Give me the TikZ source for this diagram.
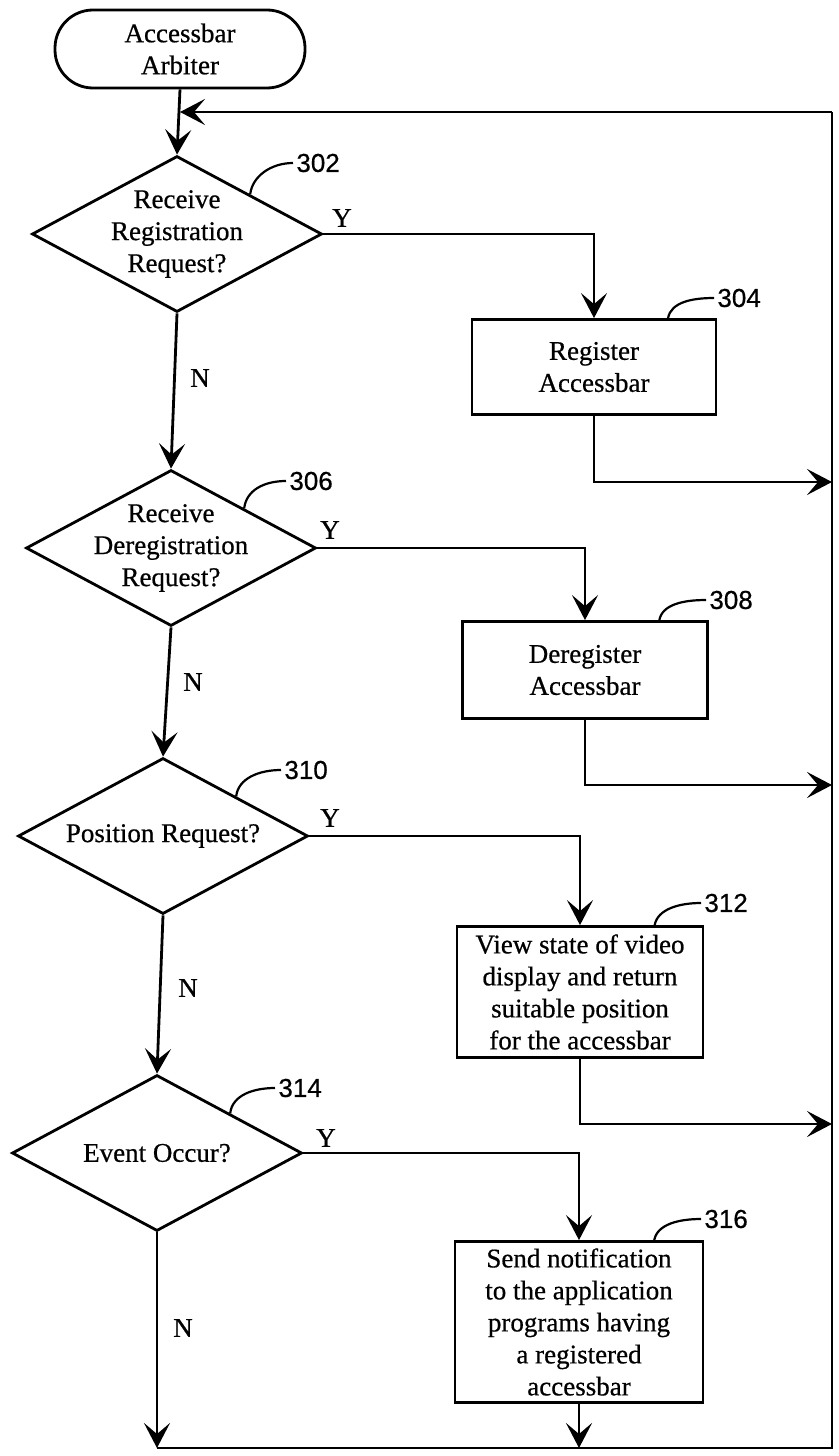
\documentclass[tikz,border=0pt]{standalone}
\usepackage{fontspec}
\setmainfont{Liberation Serif}[FakeBold=0.6]
\newfontfamily\numberfont{Liberation Sans}[FakeBold=0.6]
\usetikzlibrary{shapes.geometric,arrows.meta,calc}

\begin{document}
\begin{tikzpicture}[x=0.5pt,y=-0.5pt,
	every node/.style={font=\fontsize{13.5}{16}\selectfont},
	line/.style={line width=1.4pt},
	arr/.style={line width=1.4pt,-{Stealth[length=12.5pt,width=13pt,inset=5.5pt]}},
	decision/.style={draw,shape=diamond,line width=1.4pt,minimum width=145pt,minimum height=78pt,inner sep=0pt},
	process/.style={draw,rectangle,line width=1.4pt,align=center,inner sep=0pt},
	leader/.style={line width=1.1pt},
	numlabel/.style={anchor=west,inner sep=1.5pt}]
	\newcommand{\myfontnumbers}[1]{\numberfont\fontsize{13}{15}\selectfont{#1}}
	\useasboundingbox (0,0) rectangle (839,1456);
	%Start of the flow
	\coordinate (start) at (180,49);
	\node [draw,line width=1.4pt,rounded corners=19pt,minimum width=125pt,minimum height=39pt,align=center,inner sep=0pt] (term) at (start) {Accessbar\\Arbiter};
	%Centers of the decisions
	\coordinate (dec302) at (177,234);
	\coordinate (dec306) at (171,548);
	\coordinate (dec310) at (163,836);
	\coordinate (dec314) at (157,1153);
	\node [decision] (d302) at (dec302) {};
	\node [decision] (d306) at (dec306) {};
	\node [decision] (d310) at (dec310) {};
	\node [decision] (d314) at (dec314) {};
	\node [align=center,inner sep=0pt] (t302) at (dec302) {Receive\\Registration\\Request?};
	\node [align=center,inner sep=0pt] (t306) at (dec306) {Receive\\Deregistration\\Request?};
	\node [inner sep=0pt] (t310) at (dec310) {Position Request?};
	\node [inner sep=0pt] (t314) at (dec314) {Event Occur?};
	%Centers of the boxes
	\coordinate (box304) at (594,367);
	\coordinate (box308) at (585,670);
	\coordinate (box312) at (580,992);
	\coordinate (box316) at (579,1322);
	\node [process,minimum width=122pt,minimum height=47.5pt] (b304) at (box304) {Register\\Accessbar};
	\node [process,minimum width=122.5pt,minimum height=48.5pt] (b308) at (box308) {Deregister\\Accessbar};
	\node [process,minimum width=123pt,minimum height=65.5pt] (b312) at (box312) {View state of video\\display and return\\suitable position\\for the accessbar};
	\node [process,minimum width=124pt,minimum height=80.5pt] (b316) at (box316) {Send notification\\to the application\\programs having\\a registered\\accessbar};
	%Reference numbers
	\node [numlabel] (l302) at (293,163) {\myfontnumbers{302}};
	\node [numlabel] (l306) at (286,481) {\myfontnumbers{306}};
	\node [numlabel] (l310) at (281,770) {\myfontnumbers{310}};
	\node [numlabel] (l314) at (275,1088) {\myfontnumbers{314}};
	\node [numlabel] (l304) at (714,298) {\myfontnumbers{304}};
	\node [numlabel] (l308) at (706,600) {\myfontnumbers{308}};
	\node [numlabel] (l312) at (701,903) {\myfontnumbers{312}};
	\node [numlabel] (l316) at (701,1219) {\myfontnumbers{316}};
	\draw [leader] (d302.north east) .. controls +(2,-18) and +(-22,0) .. (l302.west);
	\draw [leader] (d306.north east) .. controls +(2,-18) and +(-22,0) .. (l306.west);
	\draw [leader] (d310.north east) .. controls +(2,-18) and +(-22,0) .. (l310.west);
	\draw [leader] (d314.north east) .. controls +(2,-18) and +(-22,0) .. (l314.west);
	\draw [leader] ($(b304.north)!0.6!(b304.north east)$) .. controls +(3,-16) and +(-22,0) .. (l304.west);
	\draw [leader] ($(b308.north)!0.6!(b308.north east)$) .. controls +(3,-16) and +(-22,0) .. (l308.west);
	\draw [leader] ($(b312.north)!0.6!(b312.north east)$) .. controls +(3,-16) and +(-22,0) .. (l312.west);
	\draw [leader] ($(b316.north)!0.6!(b316.north east)$) .. controls +(3,-16) and +(-22,0) .. (l316.west);
	%Y and N
	\node [inner sep=0pt] (y302) at (342,218) {Y};
	\node [inner sep=0pt] (y306) at (330,530) {Y};
	\node [inner sep=0pt] (y310) at (330,818) {Y};
	\node [inner sep=0pt] (y314) at (326,1138) {Y};
	\node [inner sep=0pt] (n302) at (200,378) {N};
	\node [inner sep=0pt] (n306) at (193,682) {N};
	\node [inner sep=0pt] (n310) at (188,988) {N};
	\node [inner sep=0pt] (n314) at (183,1328) {N};
	%The loop back on the right
	\coordinate (busTop) at (832,112);
	\coordinate (busBot) at (832,1448);
	\coordinate (merge) at (180,112);
	\coordinate (in304) at (832,482);
	\coordinate (in308) at (832,785);
	\coordinate (in312) at (832,1124);
	%Main column
	\draw [arr] (term.south) -- (d302.north);
	\draw [arr] (d302.south) -- (d306.north);
	\draw [arr] (d306.south) -- (d310.north);
	\draw [arr] (d310.south) -- (d314.north);
	\draw [arr] (d314.south) -- (d314.south |- busBot);
	%Yes branches
	\draw [arr] (d302.east) -| (b304.north);
	\draw [arr] (d306.east) -| (b308.north);
	\draw [arr] (d310.east) -| (b312.north);
	\draw [arr] (d314.east) -| (b316.north);
	\draw [arr] (b304.south) |- (in304);
	\draw [arr] (b308.south) |- (in308);
	\draw [arr] (b312.south) |- (in312);
	\draw [arr] (b316.south) -- (b316.south |- busBot);
	\draw [line] (d314.south |- busBot) -- (busBot) -- (busTop);
	\draw [arr] (busTop) -- (merge);
\end{tikzpicture}
\end{document}
